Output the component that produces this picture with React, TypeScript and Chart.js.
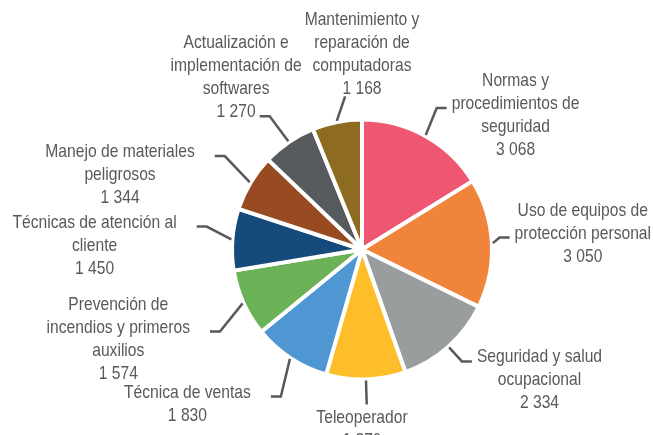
import React, { useEffect, useRef } from 'react';
import { Chart, registerables } from 'chart.js';

Chart.register(...registerables);

// ---- data ----
const categories: string[][] = [
  ['Normas y', 'procedimientos de', 'seguridad'],
  ['Uso de equipos de', 'protección personal'],
  ['Seguridad y salud', 'ocupacional'],
  ['Teleoperador'],
  ['Técnica de ventas'],
  ['Prevención de', 'incendios y primeros', 'auxilios'],
  ['Técnicas de atención al', 'cliente'],
  ['Manejo de materiales', 'peligrosos'],
  ['Actualización e', 'implementación de', 'softwares'],
  ['Mantenimiento y', 'reparación de', 'computadoras'],
];
const values: number[] = [3068, 3050, 2334, 1870, 1830, 1574, 1450, 1344, 1270, 1168];
const colors: string[] = [
  '#EF5671', '#F0843B', '#9A9D9D', '#FDBE2A', '#4F97D2',
  '#6BB155', '#174A7C', '#984A20', '#575B5D', '#8D6C22',
];

// ---- label layout (leader lines) ----
// which text line the leader attaches to (or label above / below the pie)
const labelAnchorLine: (number | 'above' | 'below')[] = [1, 1, 0, 'below', 0, 1, 0, 0, 3, 'above'];
// bend of the leader relative to the slice's mid angle (degrees) and its length beyond the rim (px)
const elbowAngleOffset: number[] = [-1.3, -2.2, -0.1, 0, -4.5, -5.7, 4.0, 3.3, -0.5, 4.8];
const elbowExtra: number[] = [32, 30, 22, 27, 40, 36, 29, 38, 34, 26];

const fmt = (n: number) => String(n).replace(/\B(?=(\d{3})+(?!\d))/g, ' ');

const FONT = '18.5px "Liberation Sans", Arial, sans-serif';
const SX = 0.845; // horizontal condensation of the text
const TEXT_COLOR = '#595959';
const LINE_COLOR = '#595959';
const LH = 23;
const BORDER = 4;

const outsideLabels = {
  id: 'outsideLabels',
  afterDraw(chart: any) {
    const ctx: CanvasRenderingContext2D = chart.ctx;
    const meta = chart.getDatasetMeta(0);
    const W = chart.width;
    ctx.save();
    ctx.font = FONT;
    ctx.textBaseline = 'middle';
    ctx.textAlign = 'center';
    meta.data.forEach((arc: any, i: number) => {
      const { x, y, startAngle, endAngle, outerRadius } = arc.getProps(
        ['x', 'y', 'startAngle', 'endAngle', 'outerRadius'], true);
      const R = outerRadius - BORDER / 2;
      const a = (startAngle + endAngle) / 2;
      const c = Math.cos(a), s = Math.sin(a);
      const b = a + (elbowAngleOffset[i] * Math.PI) / 180;
      const cb = Math.cos(b), sb = Math.sin(b);
      const lines = [...categories[i], fmt(values[i])];
      const widths = lines.map((l) => ctx.measureText(l).width * SX);
      const boxW = Math.max(...widths);
      const anchor = labelAnchorLine[i];
      const p1x = x + (R + 3) * c, p1y = y + (R + 3) * s;
      ctx.strokeStyle = LINE_COLOR;
      ctx.lineWidth = 2.5;
      ctx.lineJoin = 'miter';
      let cx: number, firstY: number;
      ctx.beginPath();
      ctx.moveTo(p1x, p1y);
      let r2 = R + elbowExtra[i];
      if (anchor === 'above' || anchor === 'below') {
        const p2x = x + r2 * cb, p2y = y + r2 * sb;
        ctx.lineTo(p2x, p2y);
        cx = x;
        if (anchor === 'above') firstY = p2y - 8 - (lines.length - 1) * LH;
        else firstY = p2y + 13;
      } else {
        const side = cb > 0 ? 1 : -1;
        const k = anchor as number;
        const stub = 10;
        const isWidest = widths[k] >= boxW - 0.5;
        const gap = side > 0 ? 5 : isWidest ? 20 : 4;
        let p2x = x + r2 * cb;
        cx = p2x + side * (stub + gap) + side * widths[k] / 2;
        const right = cx + boxW / 2, left = cx - boxW / 2;
        let shift = 0;
        if (right > W - 2) shift = right - (W - 2);
        if (left < 2) shift = left - 2;
        if (shift !== 0) {
          cx -= shift;
          p2x -= shift;
          r2 = Math.max((p2x - x) / cb, R + 8);
          p2x = x + r2 * cb;
        }
        const p2y = y + r2 * sb;
        ctx.lineTo(p2x, p2y);
        ctx.lineTo(p2x + side * stub, p2y);
        firstY = p2y - 4 - k * LH;
      }
      ctx.stroke();
      ctx.fillStyle = TEXT_COLOR;
      lines.forEach((l, j) => {
        ctx.save();
        ctx.translate(cx, firstY + j * LH);
        ctx.scale(SX, 1);
        ctx.fillText(l, 0, 0);
        ctx.restore();
      });
    });
    ctx.restore();
  },
};

export default function App() {
  const ref = useRef<HTMLCanvasElement>(null);
  useEffect(() => {
    document.body.style.margin = '0';
    const chart = new Chart(ref.current!, {
      type: 'pie',
      data: {
        labels: categories,
        datasets: [{
          data: values,
          backgroundColor: colors,
          borderColor: '#ffffff',
          borderWidth: BORDER,
        }],
      },
      options: {
        responsive: false,
        animation: false,
        radius: 130,
        layout: { padding: { left: 71, top: 64, right: 0, bottom: 0 } },
        plugins: { legend: { display: false }, tooltip: { enabled: false } },
      } as any,
      plugins: [outsideLabels],
    });
    return () => chart.destroy();
  }, []);
  return (
    <div style={{ position: 'fixed', left: 0, top: 0, width: 653, height: 435, background: '#fff' }}>
      <canvas ref={ref} width={653} height={435} style={{ width: 653, height: 435 }} />
    </div>
  );
}
